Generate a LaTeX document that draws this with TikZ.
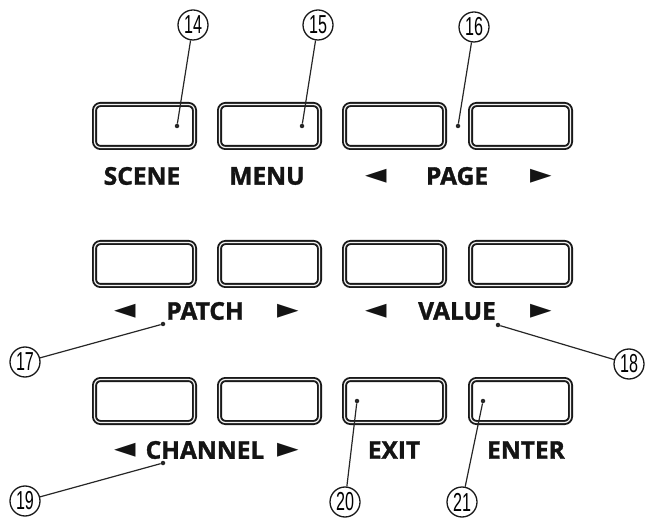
\documentclass[tikz,border=0pt]{standalone}
\usepackage{fontspec}
\setmainfont{Open Sans}
\newfontfamily\lblfont{Open Sans}[FakeBold=1.4]
\newfontfamily\symfont{DejaVu Sans}
\newfontfamily\numfont{Liberation Sans}
\begin{document}
\begin{tikzpicture}[x=1pt,y=-1pt,
  btn/.style={draw=black!90, line width=1.9pt, double=black!5, double distance=1.2pt,
    rounded corners=6pt, minimum width=100pt, minimum height=43pt, inner sep=0},
  lbl/.style={font=\lblfont\fontsize{24.5}{25}\selectfont\bfseries, text=black!92, inner sep=0},
  arr/.style={font=\symfont\fontsize{28}{28}\selectfont, text=black!92, inner sep=0},
  num/.style={circle, draw=black!90, line width=1.3pt, minimum size=30pt, inner sep=0,
    font=\numfont\fontsize{26}{26}\selectfont},
  lead/.style={line width=1.2pt, draw=black!85},
  dotc/.style={circle, fill=black!85, inner sep=0, minimum size=4.5pt}
]
\useasboundingbox (0,0) rectangle (645,518);

% buttons
\node[btn] (b11) at (144.5,126) {};
\node[btn] (b12) at (269.5,126) {};
\node[btn] (b13) at (394.5,126) {};
\node[btn] (b14) at (520.5,126) {};
\node[btn] (b21) at (144.5,264) {};
\node[btn] (b22) at (269.5,264) {};
\node[btn] (b23) at (394.5,264) {};
\node[btn] (b24) at (520.5,264) {};
\node[btn] (b31) at (144.5,401) {};
\node[btn] (b32) at (269.5,401) {};
\node[btn] (b33) at (394.5,401) {};
\node[btn] (b34) at (520.5,401) {};

% labels row 1
\node[lbl] (scene) at (142,176) {SCENE};
\node[lbl] (menu) at (267,176) {MENU};
\node[arr] (pl) at (376,176) {◄};
\node[lbl] (page) at (457,176) {PAGE};
\node[arr] (pr) at (541,176) {►};
% labels row 2
\node[arr] (tl) at (125,311) {◄};
\node[lbl] (patch) at (205,311) {PATCH};
\node[arr] (tr) at (288,311) {►};
\node[arr] (vl) at (376,311) {◄};
\node[lbl] (value) at (457,311) {VALUE};
\node[arr] (vr) at (541,311) {►};
% labels row 3
\node[arr] (cl) at (125,450) {◄};
\node[lbl] (channel) at (205,450) {CHANNEL};
\node[arr] (cr) at (288,450) {►};
\node[lbl] (exit) at (394,450) {EXIT};
\node[lbl] (enter) at (526,450) {ENTER};

% callout dots
\node[dotc] (d14) at (177,126) {};
\node[dotc] (d15) at (302,126) {};
\node[dotc] (d16) at (458,126) {};
\node[dotc] (d17) at (163,324) {};
\node[dotc] (d18) at (498,325) {};
\node[dotc] (d19) at (163,463) {};
\node[dotc] (d20) at (357,401) {};
\node[dotc] (d21) at (483,401) {};

% callout circles
\node[num] (c14) at (193,25) {\scalebox{0.62}[1]{14}};
\node[num] (c15) at (318,25) {\scalebox{0.62}[1]{15}};
\node[num] (c16) at (474,27) {\scalebox{0.62}[1]{16}};
\node[num] (c17) at (25,362) {\scalebox{0.62}[1]{17}};
\node[num] (c18) at (629,364) {\scalebox{0.62}[1]{18}};
\node[num] (c19) at (25,501) {\scalebox{0.62}[1]{19}};
\node[num] (c20) at (345,502) {\scalebox{0.62}[1]{20}};
\node[num] (c21) at (462,502) {\scalebox{0.62}[1]{21}};

% leaders
\draw[lead] (c14) -- (d14);
\draw[lead] (c15) -- (d15);
\draw[lead] (c16) -- (d16);
\draw[lead] (c17) -- (d17);
\draw[lead] (c18) -- (d18);
\draw[lead] (c19) -- (d19);
\draw[lead] (c20) -- (d20);
\draw[lead] (c21) -- (d21);
\end{tikzpicture}
\end{document}
